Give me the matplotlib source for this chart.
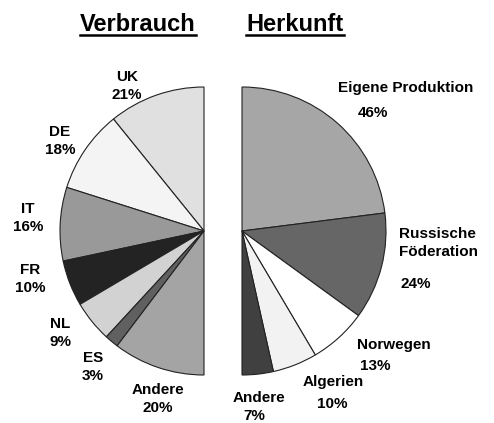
import numpy as np
import matplotlib
matplotlib.use('Agg')
import matplotlib.pyplot as plt

# Verbrauch (left half pie, from top counter-clockwise)
cons_labels = ['UK', 'DE', 'IT', 'FR', 'NL', 'ES', 'Andere']
cons_values = [21, 18, 16, 10, 9, 3, 20]
cons_colors = ['#e0e0e0', '#f4f4f4', '#999999', '#232323', '#d2d2d2', '#606060', '#a4a4a4']

# Herkunft (right half pie, from top clockwise)
orig_labels = ['Eigene Produktion', 'Russische\nFöderation', 'Norwegen', 'Algerien', 'Andere']
orig_values = [46, 24, 13, 10, 7]
orig_colors = ['#a6a6a6', '#666666', '#ffffff', '#f2f2f2', '#404040']

plt.rcParams['font.family'] = ['Liberation Sans', 'DejaVu Sans']

fig = plt.figure(figsize=(4.94, 4.23), dpi=100)
ax = fig.add_axes([0, 0, 1, 1])

R = 144
wp = dict(edgecolor='#222222', linewidth=0.8)

# half pies: add an invisible wedge equal to the total so the data fill 180 degrees
w1, _ = ax.pie(cons_values + [sum(cons_values)], colors=cons_colors + ['none'],
               startangle=90, counterclock=True, center=(204, 192), radius=R,
               wedgeprops=wp, frame=True)
w1[-1].set_visible(False)
w2, _ = ax.pie(orig_values + [sum(orig_values)], colors=orig_colors + ['none'],
               startangle=90, counterclock=False, center=(242, 192), radius=R,
               wedgeprops=wp, frame=True)
w2[-1].set_visible(False)
ax.set_xlim(0, 494)
ax.set_ylim(0, 423)
ax.set_aspect('equal')
ax.axis('off')

fs = 11
# left labels (name + percent stacked, centered)
cons_pos = [(127, 337), (60, 282), (28, 205), (30, 144), (60, 90), (93, 56), (158, 24)]
for lab, v, (x, y) in zip(cons_labels, cons_values, cons_pos):
    ax.text(x, y, '%s\n%d%%' % (lab, v), ha='center', va='center', fontsize=fs,
            fontweight='bold', linespacing=1.45)

# right labels: name and percent placed separately
orig_name_pos = [(406, 335), (399, 180), (394, 78), (333, 41), (259, 25)]
orig_pct_pos = [(373, 310), (416, 139), (375, 57), (332, 19), (254, 7)]
orig_ha = ['center', 'left', 'center', 'center', 'center']
for lab, v, (nx, ny), (px, py), h in zip(orig_labels, orig_values, orig_name_pos, orig_pct_pos, orig_ha):
    ax.text(nx, ny, lab, ha=h, va='center', fontsize=fs, fontweight='bold', linespacing=1.45)
    ax.text(px, py, '%d%%' % v, ha='center', va='center', fontsize=fs, fontweight='bold')

# titles with underline
t1 = ax.text(138, 399, 'Verbrauch', ha='center', va='center', fontsize=17, fontweight='bold')
t2 = ax.text(295, 399, 'Herkunft', ha='center', va='center', fontsize=17, fontweight='bold')
fig.canvas.draw()
inv = ax.transData.inverted()
for t in (t1, t2):
    bb = t.get_window_extent()
    (x0, y0), (x1, y1) = inv.transform([(bb.x0, bb.y0), (bb.x1, bb.y1)])
    ax.plot([x0, x1], [y0 + 1, y0 + 1], color='black', linewidth=1.8)

fig.savefig('out.png', dpi=100)
